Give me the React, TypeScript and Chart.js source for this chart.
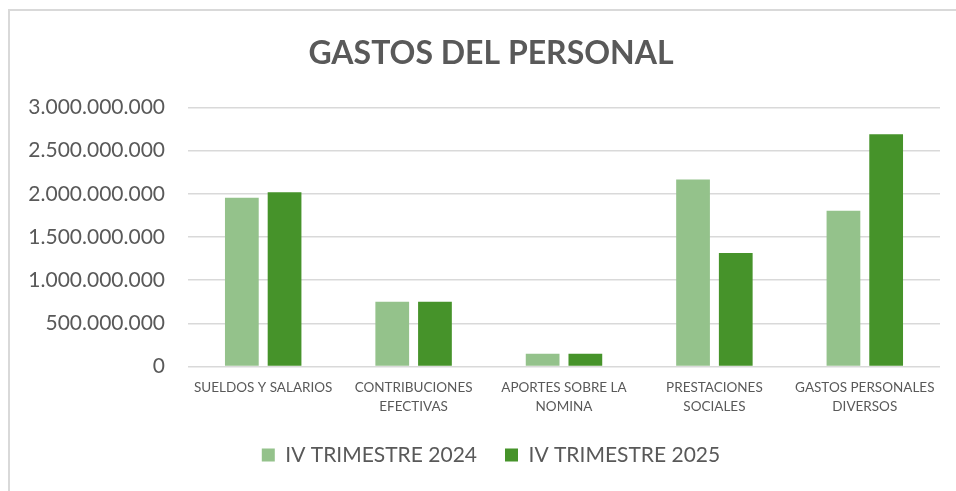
import React, { useEffect, useRef } from "react";
import { Chart, registerables } from "chart.js";

Chart.register(...registerables);

const TITLE = "GASTOS DEL PERSONAL";
const categories: (string | string[])[] = [
  "SUELDOS Y SALARIOS",
  ["CONTRIBUCIONES", "EFECTIVAS"],
  ["APORTES SOBRE LA", "NOMINA"],
  ["PRESTACIONES", "SOCIALES"],
  ["GASTOS PERSONALES", "DIVERSOS"],
];
const seriesNames = ["IV TRIMESTRE 2024", "IV TRIMESTRE 2025"];
const values2024 = [1953000000, 750000000, 147000000, 2166000000, 1803000000];
const values2025 = [2019000000, 750000000, 147000000, 1315000000, 2688000000];
const yMin = 0;
const yMax = 3000000000;
const yStep = 500000000;

const TEXT = "#595959";
const GRID = "#D9D9D9";
const FONT = "Lato, 'Open Sans', sans-serif";

const fmt = (v: number) => String(Math.round(v)).replace(/\B(?=(\d{3})+(?!\d))/g, ".");

const borderPlugin = {
  id: "frame",
  beforeDraw(chart: any) {
    const { ctx, width, height } = chart;
    ctx.save();
    ctx.strokeStyle = GRID;
    ctx.lineWidth = 2;
    ctx.beginPath();
    ctx.moveTo(9, height);
    ctx.lineTo(9, 10);
    ctx.lineTo(width, 10);
    ctx.stroke();
    ctx.restore();
  },
};

export default function App() {
  const ref = useRef<HTMLCanvasElement | null>(null);
  useEffect(() => {
    if (!ref.current) return;
    const chart = new Chart(ref.current, {
      type: "bar",
      data: {
        labels: categories,
        datasets: [
          {
            label: seriesNames[0],
            data: values2024,
            backgroundColor: "#94C28B",
            borderWidth: 0,
            categoryPercentage: 0.568,
            barPercentage: 0.79,
          },
          {
            label: seriesNames[1],
            data: values2025,
            backgroundColor: "#46932A",
            borderWidth: 0,
            categoryPercentage: 0.568,
            barPercentage: 0.79,
          },
        ],
      },
      options: {
        responsive: false,
        animation: false,
        layout: { padding: { left: 26, right: 0, top: 0, bottom: 15.5 } },
        plugins: {
          title: {
            display: true,
            text: TITLE,
            color: TEXT,
            font: { family: FONT, size: 32, weight: "bold", lineHeight: 1.2 },
            padding: { top: 34, bottom: 35 },
          },
          legend: {
            position: "bottom",
            labels: {
              color: TEXT,
              font: { family: FONT, size: 21 },
              boxWidth: 13,
              boxHeight: 13,
              padding: 28,
            },
          },
          tooltip: { enabled: false },
        },
        scales: {
          x: {
            grid: { display: false, drawTicks: false },
            border: { display: false },
            ticks: {
              color: TEXT,
              font: { family: FONT, size: 13.5, lineHeight: 1.4 },
              padding: 12,
              maxRotation: 0,
              autoSkip: false,
            },
            afterFit(scale: any) {
              scale.height = 50;
            },
          },
          y: {
            min: yMin,
            max: yMax,
            grid: { color: GRID, lineWidth: 1.5, drawTicks: false },
            border: { display: false },
            ticks: {
              stepSize: yStep,
              color: TEXT,
              font: { family: FONT, size: 21 },
              padding: 23,
              callback: (v: any) => fmt(Number(v)),
            },
            afterFit(scale: any) {
              scale.width = 162;
            },
          },
          y2: {
            position: "right",
            display: true,
            grid: { display: false, drawTicks: false },
            border: { display: false },
            ticks: { display: false },
            afterFit(scale: any) {
              scale.width = 16;
            },
          },
        },
      },
      plugins: [borderPlugin],
    } as any);
    return () => chart.destroy();
  }, []);
  return (
    <div style={{ position: "fixed", left: 0, top: 0, width: 956, height: 491, background: "#fff" }}>
      <canvas ref={ref} width={956} height={491} style={{ display: "block" }} />
    </div>
  );
}
